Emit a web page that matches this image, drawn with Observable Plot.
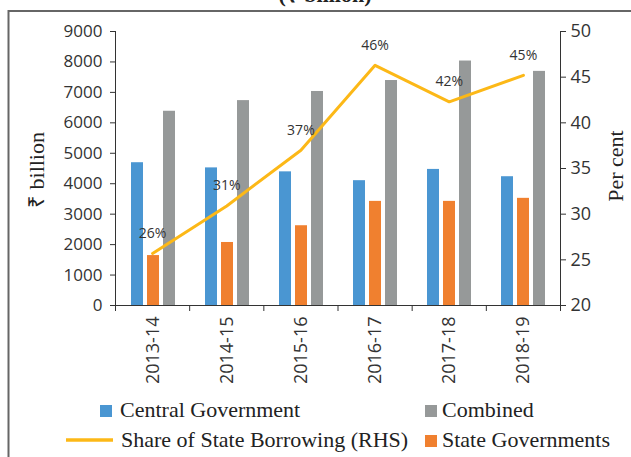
<!DOCTYPE html>
<html><head><meta charset="utf-8">
<script src="https://cdn.jsdelivr.net/npm/d3@7"></script>
<script src="https://cdn.jsdelivr.net/npm/@observablehq/plot@0.6"></script>
<style>
html,body{margin:0;padding:0;background:#fff;}
#chart{position:relative;width:631px;height:457px;overflow:hidden;background:#fff;}
#chart > svg{position:absolute;left:0;top:0;}
</style></head><body><div id="chart"></div>
<script>
const years = ["2013-14","2014-15","2015-16","2016-17","2017-18","2018-19"];
const central = [4690, 4520, 4390, 4100, 4470, 4230];
const state = [1640, 2070, 2620, 3420, 3420, 3520];
const combined = [6380, 6730, 7030, 7390, 8030, 7690];
const share = [25.7, 30.9, 37.0, 46.3, 42.3, 45.2];
const shareLabels = ["26%","31%","37%","46%","42%","45%"];
const seriesNames = ["Central Government","State Governments","Combined"];
const seriesColors = ["#4A96D2","#F0802F","#969999"];
const lineName = "Share of State Borrowing (RHS)";
const lineColor = "#FCB817";
const leftTicks = d3.range(0, 9001, 1000);
const rightTicks = d3.range(20, 51, 5);
const titleText = "(₹ billion)";
const leftTitle = "₹ billion";
const rightTitle = "Per cent";

const W = 631, H = 400, mL = 115, mR = 71, mT = 31, mB = 95;
const axisColor = "#333";
const sansFont = "'Open Sans', sans-serif";
const serifFont = "'Liberation Serif', serif";

const seriesValues = [central, state, combined];
const bars = years.flatMap((year, i) => seriesNames.map((s, k) => ({year, series: s, value: seriesValues[k][i]})));
const shareRows = years.map((year, i) => ({year, pos: i + 0.5, share: share[i], label: shareLabels[i]}));

const chart = document.getElementById("chart");

const p1 = Plot.plot({
  width: W, height: H, marginLeft: mL, marginRight: mR, marginTop: mT, marginBottom: mB,
  style: {background: "transparent", overflow: "visible", color: axisColor, fontFamily: sansFont},
  fx: {domain: years, padding: 0, label: null},
  x: {domain: seriesNames, paddingInner: 0.26, paddingOuter: 0.86, axis: null},
  y: {domain: [0, 9000]},
  color: {domain: seriesNames, range: seriesColors},
  marks: [
    Plot.barY(bars, {fx: "year", x: "series", y: "value", fill: "series"}),
    Plot.axisY({ticks: leftTicks, tickFormat: d3.format("d"), tickSize: 6, tickPadding: 8, fontSize: 17, label: null, stroke: axisColor}),
    Plot.axisFx({anchor: "bottom", tickRotate: -90, tickSize: 0, tickPadding: 11, fontSize: 18, label: null})
  ]
});
chart.appendChild(p1);

const p2 = Plot.plot({
  width: W, height: H, marginLeft: mL, marginRight: mR, marginTop: mT, marginBottom: mB,
  style: {background: "transparent", overflow: "visible", color: axisColor, fontFamily: sansFont},
  x: {domain: [0, years.length]},
  y: {domain: [20, 50]},
  marks: [
    Plot.ruleX([0, years.length], {stroke: axisColor}),
    Plot.ruleY([20], {stroke: axisColor}),
    Plot.axisX({ticks: d3.range(0, years.length + 1), tickFormat: () => "", tickSize: 6, label: null, stroke: axisColor}),
    Plot.axisY({anchor: "right", ticks: rightTicks, tickSize: 5, tickPadding: 5, fontSize: 18, label: null, stroke: axisColor}),
    Plot.line(shareRows, {x: "pos", y: "share", stroke: lineColor, strokeWidth: 3}),
    Plot.text(shareRows, {x: "pos", y: "share", text: "label", dy: -20, fontSize: 14, fill: "#333"})
  ]
});
chart.appendChild(p2);

// Frame, titles and legend
const svg = d3.select(chart).append("svg").attr("width", 631).attr("height", 457)
  .style("pointer-events", "none");
svg.append("path").attr("d", "M8.5,457V11H631").attr("fill", "none").attr("stroke", "#666").attr("stroke-width", 2);
svg.append("text").attr("x", 325).attr("y", 2).attr("text-anchor", "middle")
  .attr("font-family", serifFont).attr("font-size", 22).attr("font-weight", "bold").attr("fill", "#222").text(titleText);
svg.append("text").attr("transform", "translate(43.5,170) rotate(-90)").attr("text-anchor", "middle")
  .attr("font-family", serifFont).attr("font-size", 22).attr("fill", "#222").text(leftTitle);
svg.append("text").attr("transform", "translate(623,166) rotate(-90)").attr("text-anchor", "middle")
  .attr("font-family", serifFont).attr("font-size", 22).attr("fill", "#222").text(rightTitle);

const legendItems = [
  {name: seriesNames[0], color: seriesColors[0], kind: "square", col: 0, row: 0},
  {name: seriesNames[2], color: seriesColors[2], kind: "square", col: 1, row: 0},
  {name: lineName, color: lineColor, kind: "line", col: 0, row: 1},
  {name: seriesNames[1], color: seriesColors[1], kind: "square", col: 1, row: 1}
];
const colSwatch = [100, 425], colText = [120, 442], rowY = [411, 441];
legendItems.forEach(d => {
  const cy = rowY[d.row];
  if (d.kind === "square") {
    svg.append("rect").attr("x", colSwatch[d.col]).attr("y", cy - 6).attr("width", 12).attr("height", 12).attr("fill", d.color);
  } else {
    svg.append("line").attr("x1", 66).attr("x2", 113).attr("y1", cy - 1).attr("y2", cy - 1)
      .attr("stroke", d.color).attr("stroke-width", 3.5);
  }
  svg.append("text").attr("x", d.kind === "line" ? 121 : colText[d.col]).attr("y", cy + 6)
    .attr("font-family", serifFont).attr("font-size", 22).attr("fill", "#222").text(d.name);
});
</script>
</body></html>
